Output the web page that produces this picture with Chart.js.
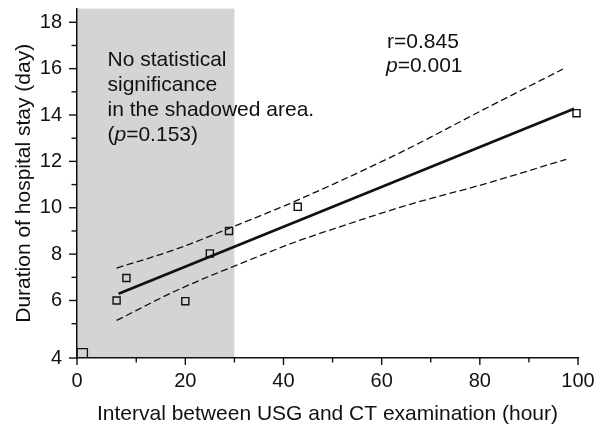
<!DOCTYPE html>
<html>
<head>
<meta charset="utf-8">
<script src="https://cdn.jsdelivr.net/npm/chart.js@4/dist/chart.umd.min.js"></script>
<style>
html,body{margin:0;padding:0;background:#fff;}
#wrap{width:603px;height:430px;position:relative;}
canvas{display:block;}
</style>
</head>
<body>
<div id="wrap"><canvas id="c" width="603" height="430"></canvas></div>
<script>
// ---- data ----
const pointX = [6.0, 8.0, 20.0, 25.0, 28.9, 42.9, 99.7];
const pointY = [6.0, 6.97, 5.97, 8.03, 9.0, 10.04, 14.08];

const cornerX = [-1.0];
const cornerY = [3.7];

const regX = [6.4, 99.2];
const regY = [6.29, 14.27];

const upperX = [6.0, 18.2, 29.0, 42.0, 63.7, 80.7, 96.9];
const upperY = [7.40, 8.22, 9.12, 10.25, 12.37, 14.23, 15.98];

const lowerX = [6.0, 18.2, 31.1, 43.4, 49.5, 65.8, 80.7, 97.6];
const lowerY = [5.14, 6.43, 7.58, 8.60, 9.04, 10.15, 11.01, 12.09];

const shadeEnd = 30;

const xAxisMin = -2.07, xAxisMax = 100;
const yAxisMin = 3.52, yAxisMax = 18.59;

const xTickValues = [xAxisMin, 10, 20, 30, 40, 50, 60, 70, 80, 90, 100];
const xTickLabels = ['0', '', '20', '', '40', '', '60', '', '80', '', '100'];
const yTickValues = [yAxisMin, 5, 6, 7, 8, 9, 10, 11, 12, 13, 14, 15, 16, 17, 18];
const yTickLabels = ['4', '', '6', '', '8', '', '10', '', '12', '', '14', '', '16', '', '18'];

const xTitle = 'Interval between USG and CT examination (hour)';
const yTitle = 'Duration of hospital stay (day)';

const noteLines = ['No statistical', 'significance', 'in the shadowed area.'];
const notePParts = [['(', false], ['p', true], ['=0.153)', false]];
const rLine = [['r=0.845', false]];
const pLine = [['p', true], ['=0.001', false]];

// ---- helpers ----
const FONT = '"Liberation Sans", Arial, Helvetica, sans-serif';
const INK = '#111111';
const zip = (xs, ys) => xs.map((x, i) => ({x: x, y: ys[i]}));

function drawRich(ctx, parts, x, y, size) {
  let cx = x;
  for (const [t, it] of parts) {
    ctx.font = (it ? 'italic ' : '') + size + 'px ' + FONT;
    ctx.fillText(t, cx, y);
    cx += ctx.measureText(t).width;
  }
}

const shadePlugin = {
  id: 'shade',
  beforeDraw(chart) {
    const {ctx, chartArea, scales} = chart;
    const xr = scales.x.getPixelForValue(shadeEnd);
    ctx.save();
    ctx.fillStyle = '#d4d4d4';
    ctx.fillRect(chartArea.left, chartArea.top, xr - chartArea.left, chartArea.bottom - chartArea.top);
    ctx.restore();
  }
};

const tickPlugin = {
  id: 'tickmarks',
  afterDraw(chart) {
    const {ctx, chartArea, scales} = chart;
    ctx.save();
    ctx.strokeStyle = INK;
    ctx.lineWidth = 1.4;
    scales.x.ticks.forEach((t, i) => {
      const px = scales.x.getPixelForValue(t.value);
      const len = xTickLabels[i] ? 7 : 4.5;
      ctx.beginPath();
      ctx.moveTo(px, chartArea.bottom);
      ctx.lineTo(px, chartArea.bottom + len);
      ctx.stroke();
    });
    scales.y.ticks.forEach((t, i) => {
      const py = scales.y.getPixelForValue(t.value);
      const len = yTickLabels[i] ? 8 : 5.5;
      ctx.beginPath();
      ctx.moveTo(chartArea.left, py);
      ctx.lineTo(chartArea.left - len, py);
      ctx.stroke();
    });
    ctx.restore();
  }
};

const notePlugin = {
  id: 'notes',
  afterDatasetsDraw(chart) {
    const {ctx} = chart;
    ctx.save();
    ctx.fillStyle = INK;
    ctx.textBaseline = 'alphabetic';
    ctx.textAlign = 'left';
    const size = 21;
    const lx = 107.5, ly0 = 65.7, lh = 25;
    noteLines.forEach((line, i) => drawRich(ctx, [[line, false]], lx, ly0 + i * lh, size));
    drawRich(ctx, notePParts, lx, ly0 + 3 * lh, size);
    drawRich(ctx, rLine, 387, 48.3, size);
    drawRich(ctx, pLine, 386, 71.7, size);
    ctx.restore();
  }
};

const lineBase = {
  showLine: true, fill: false, pointRadius: 0, pointHoverRadius: 0,
  borderColor: INK
};

new Chart(document.getElementById('c'), {
  type: 'scatter',
  data: {
    datasets: [
      {
        label: 'Patients',
        data: zip(pointX, pointY),
        pointStyle: 'rect', pointRadius: 5, pointHoverRadius: 5,
        borderColor: INK, borderWidth: 1.4, clip: false,
        backgroundColor: 'rgba(0,0,0,0)', showLine: false
      },
      {
        label: 'Corner',
        data: zip(cornerX, cornerY),
        pointStyle: 'rect', pointRadius: 7.3, pointHoverRadius: 7.3,
        borderColor: INK, borderWidth: 1.3,
        backgroundColor: 'rgba(0,0,0,0)', showLine: false
      },
      Object.assign({label: 'Regression', data: zip(regX, regY), borderWidth: 2.7}, lineBase),
      Object.assign({label: 'Upper 95% CI', data: zip(upperX, upperY), borderWidth: 1.3,
        borderDash: [7, 3.5], cubicInterpolationMode: 'monotone'}, lineBase),
      Object.assign({label: 'Lower 95% CI', data: zip(lowerX, lowerY), borderWidth: 1.3,
        borderDash: [7, 3.5], cubicInterpolationMode: 'monotone'}, lineBase)
    ]
  },
  options: {
    responsive: false,
    devicePixelRatio: 1,
    animation: false,
    events: [],
    layout: {padding: {top: 7, right: 25, left: 0, bottom: 0}},
    plugins: {legend: {display: false}, tooltip: {enabled: false}},
    scales: {
      x: {
        type: 'linear', min: xAxisMin, max: xAxisMax,
        afterBuildTicks: (s) => { s.ticks = xTickValues.map(v => ({value: v})); },
        afterFit: (s) => { s.height = 72; s.paddingLeft = 0; s.paddingRight = 0; },
        grid: {display: true, drawOnChartArea: false, drawTicks: false},
        border: {display: true, color: INK, width: 1.5},
        ticks: {
          autoSkip: false, maxRotation: 0, minRotation: 0, padding: 11,
          color: INK, font: {family: FONT, size: 20, lineHeight: 1.2},
          callback: (v, i) => xTickLabels[i]
        },
        title: {display: true, text: xTitle, color: INK,
          font: {family: FONT, size: 21, lineHeight: 1.2}, padding: {top: 0, bottom: 3}}
      },
      y: {
        type: 'linear', min: yAxisMin, max: yAxisMax,
        afterBuildTicks: (s) => { s.ticks = yTickValues.map(v => ({value: v})); },
        afterFit: (s) => { s.width = 77; s.paddingTop = 0; s.paddingBottom = 0; },
        grid: {display: true, drawOnChartArea: false, drawTicks: false},
        border: {display: true, color: INK, width: 1.5},
        ticks: {
          autoSkip: false, padding: 15,
          color: INK, font: {family: FONT, size: 20, lineHeight: 1.2},
          callback: (v, i) => yTickLabels[i]
        },
        title: {display: true, text: yTitle, color: INK,
          font: {family: FONT, size: 21, lineHeight: 1.2}, padding: {top: 12, bottom: 0}}
      }
    }
  },
  plugins: [shadePlugin, tickPlugin, notePlugin]
});
</script>
</body>
</html>
